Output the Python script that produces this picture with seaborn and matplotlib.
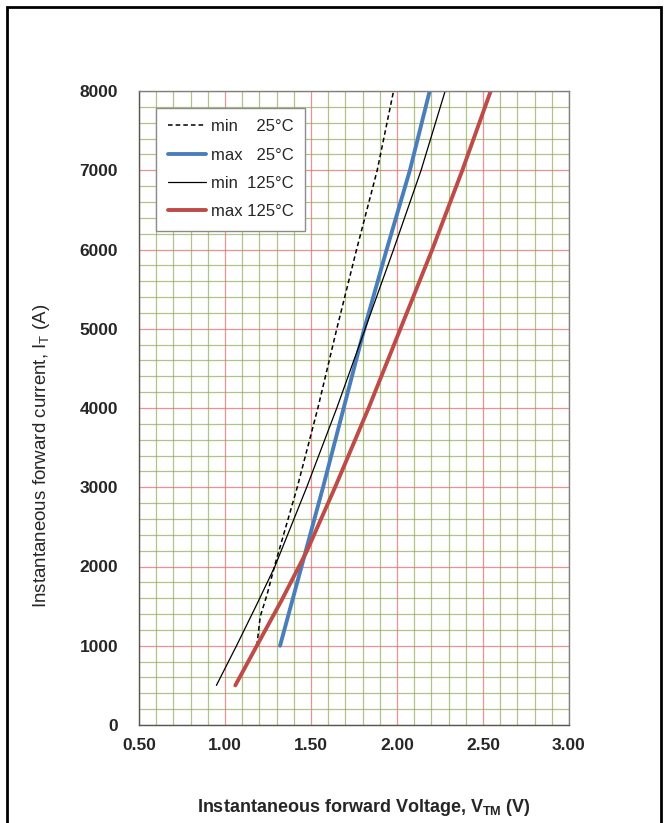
import numpy as np
import pandas as pd
import seaborn as sns
import matplotlib.pyplot as plt
from matplotlib.ticker import MultipleLocator, FormatStrFormatter
from matplotlib.patches import Rectangle

# courbes (V, A)
v_min25 = [1.185, 1.205, 1.245, 1.29, 1.42, 1.54, 1.65, 1.765, 1.885, 1.98]
i_min25 = [1000, 1370, 1650, 2020, 3000, 4000, 5000, 6000, 7000, 8000]

v_max25 = [1.32, 1.445, 1.57, 1.69, 1.81, 1.94, 2.075, 2.19]
i_max25 = [1000, 2000, 3000, 4000, 5000, 6000, 7000, 8000]

v_min125 = [0.95, 1.067, 1.18, 1.29, 1.475, 1.65, 1.815, 1.98, 2.14, 2.28]
i_min125 = [500, 1000, 1500, 2000, 3000, 4000, 5000, 6000, 7000, 8000]

v_max125 = [1.06, 1.185, 1.33, 1.475, 1.64, 1.835, 2.02, 2.205, 2.38, 2.545]
i_max125 = [500, 1000, 1577, 2190, 3000, 4000, 5000, 6000, 7000, 8000]

labels = ["min    25°C", "max   25°C", "min  125°C", "max 125°C"]

sns.set_style("white")
plt.rcParams['font.family'] = ['Liberation Sans', 'DejaVu Sans']
plt.rcParams['mathtext.fontset'] = 'custom'
plt.rcParams['mathtext.rm'] = 'Liberation Sans'
plt.rcParams['mathtext.bf'] = 'Liberation Sans:bold'

fig = plt.figure(figsize=(6.65, 8.23), dpi=100)
ax = fig.add_axes([139 / 665, (823 - 725) / 823, 430 / 665, 634 / 823])

# quadrillage
ax.xaxis.set_major_locator(MultipleLocator(0.5))
ax.xaxis.set_minor_locator(MultipleLocator(0.1))
ax.yaxis.set_major_locator(MultipleLocator(1000))
ax.yaxis.set_minor_locator(MultipleLocator(200))
ax.grid(which='minor', color='#8eac55', lw=0.9, alpha=0.7)
ax.grid(which='major', color='#e07070', lw=0.9, alpha=0.75)
ax.set_axisbelow(True)

sns.lineplot(x=v_min25, y=i_min25, ax=ax, sort=False, color='black',
             lw=1.1, label=labels[0]).lines[-1].set_dashes((3, 2))
sns.lineplot(x=v_max25, y=i_max25, ax=ax, sort=False, color='#4a7ebb',
             lw=2.8, label=labels[1])
sns.lineplot(x=v_min125, y=i_min125, ax=ax, sort=False, color='black',
             lw=0.9, label=labels[2])
sns.lineplot(x=v_max125, y=i_max125, ax=ax, sort=False, color='#be4b48',
             lw=2.8, label=labels[3])

ax.set_xlim(0.5, 3.0)
ax.set_ylim(0, 8000)
ax.xaxis.set_major_formatter(FormatStrFormatter('%.2f'))

for s in ax.spines.values():
    s.set_color('#808080')
    s.set_linewidth(1.0)
ax.spines['left'].set_color('#555555')
ax.spines['bottom'].set_color('#555555')

ax.tick_params(which='major', direction='out', length=5, width=1,
               color='#555555', labelsize=12.5)
ax.tick_params(axis='y', pad=10)
ax.tick_params(axis='x', pad=4)
ax.tick_params(which='minor', length=0)
for t in ax.get_xticklabels() + ax.get_yticklabels():
    t.set_fontweight('bold')

ax.set_xlabel(r'Instantaneous forward Voltage, V$_{\mathbf{TM}}$ (V)',
              fontsize=13, fontweight='bold')
ax.set_ylabel(r'Instantaneous forward current, I$_{\mathrm{T}}$ (A)',
              fontsize=13.5)
ax.xaxis.set_label_coords(0.523, -0.113)
ax.yaxis.set_label_coords(-0.203, 0.424)

leg = ax.legend(loc='upper left', bbox_to_anchor=(0.021, 0.987),
                fontsize=12, handlelength=2.3, handletextpad=0.25,
                labelspacing=0.8, borderpad=0.7, fancybox=False,
                framealpha=1, edgecolor='#8c8c8c')
leg.get_frame().set_linewidth(1.0)

# cadre extérieur
fig.patches.append(Rectangle((7 / 665, -0.02), 654 / 665, 1.0 - 7 / 823 + 0.02,
                             transform=fig.transFigure, fill=False,
                             edgecolor='black', lw=2, clip_on=False))

fig.savefig('out.png', dpi=100)
